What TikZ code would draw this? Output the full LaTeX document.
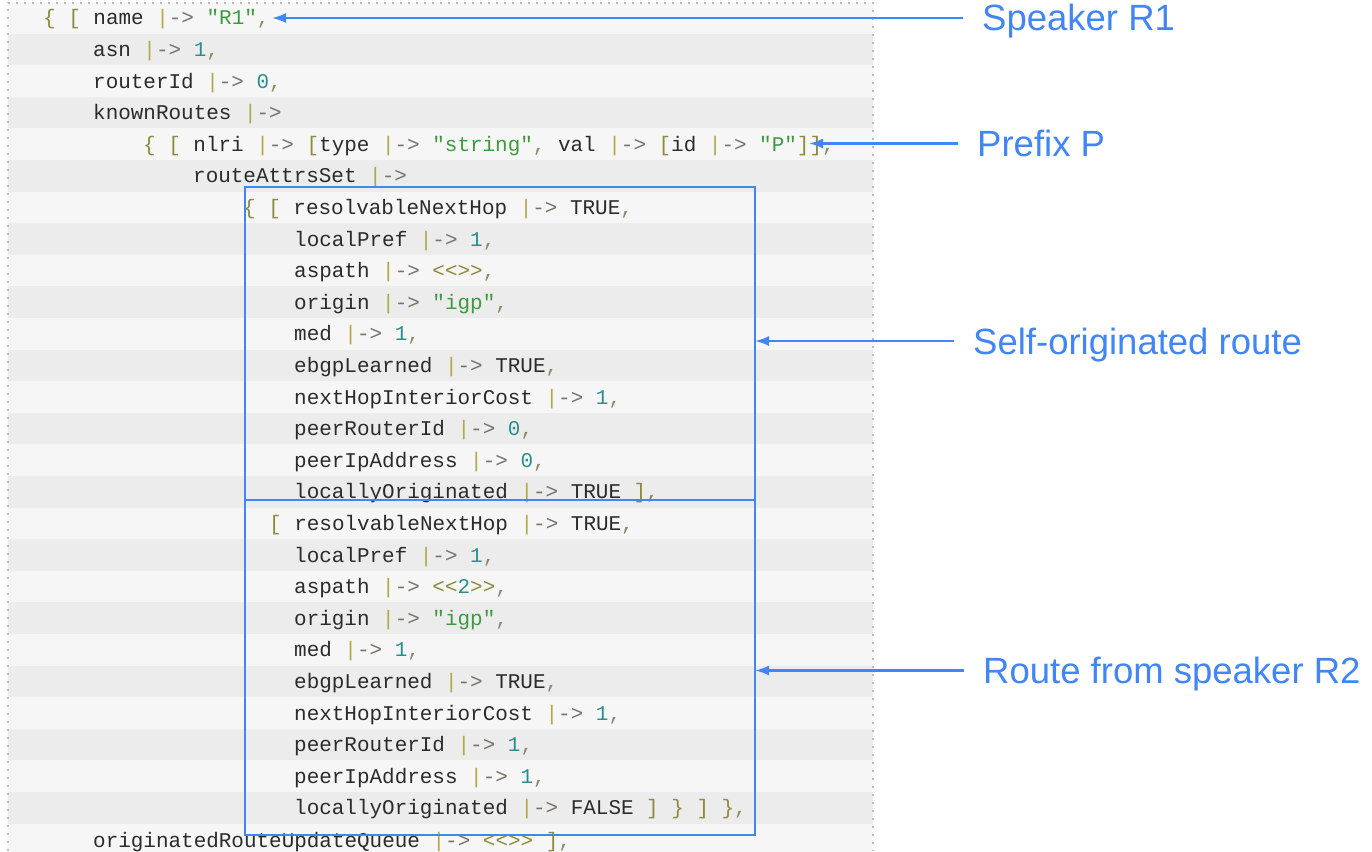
\documentclass[tikz,border=0pt]{standalone}
\usepackage{fontspec}
\setmonofont{Liberation Mono}
\newfontfamily\annfont{Liberation Sans}
\usetikzlibrary{arrows.meta}
\definecolor{stripeA}{HTML}{F6F6F6}
\definecolor{stripeB}{HTML}{ECECEC}
\definecolor{keyc}{HTML}{2B2B2B}
\definecolor{brk}{HTML}{8E8A3C}
\definecolor{barc}{HTML}{B3A84A}
\definecolor{arwc}{HTML}{76736A}
\definecolor{strc}{HTML}{3E9A3E}
\definecolor{numc}{HTML}{2B8E8E}
\definecolor{punc}{HTML}{8C8A6A}
\definecolor{gblue}{HTML}{4285F4}
\definecolor{dotc}{HTML}{BBBBBB}
\newcommand\Bk[1]{\textcolor{brk}{#1}}
\newcommand\Op{\textcolor{barc}{|}\textcolor{arwc}{->}}
\newcommand\St[1]{\textcolor{strc}{#1}}
\newcommand\Nm[1]{\textcolor{numc}{#1}}
\newcommand\Cm{\textcolor{punc}{,}}
\tikzset{
  code/.style={anchor=base west, inner sep=0pt, font=\ttfamily\fontsize{20.95}{24}\selectfont, text=keyc},
  lab/.style={anchor=west, inner xsep=19pt, inner ysep=0pt, text height=26pt, text depth=0pt,
    font=\annfont\fontsize{36.5}{40}\selectfont, text=gblue},
  box/.style={draw=gblue, line width=2pt, inner sep=0pt, outer sep=0pt},
  conn/.style={draw=gblue, line width=2.2pt, -{Latex[length=14pt,width=10pt]}},
  border/.style={draw=dotc, line width=1.6pt, dash pattern=on 1.6pt off 6.4pt}
}
\begin{document}
\begin{tikzpicture}[x=1pt, y=-1pt]
\useasboundingbox (0,0) rectangle (1372,851);
\clip (0,0) rectangle (1372,851);
\fill[white] (0,0) rectangle (1372,851);
% stripes
\foreach \k in {1,...,27}{
  \pgfmathsetmacro\ya{2+31.6*(\k-1)}
  \pgfmathsetmacro\yb{2+31.6*\k}
  \pgfmathparse{int(mod(\k,2))}
  \ifnum\pgfmathresult=1
    \fill[stripeA] (8,\ya) rectangle (873,\yb);
  \else
    \fill[stripeB] (8,\ya) rectangle (873,\yb);
  \fi
}
% dotted border
\draw[border] (8,851) -- (8,3) -- (873,3) -- (873,851);
% code lines
\node[code] (c1)  at (43,24.8)   {\Bk{\{ [} name \Op{} \St{"R1"}\Cm};
\node[code] (c2)  at (93,56.4)   {asn \Op{} \Nm{1}\Cm};
\node[code] (c3)  at (93,88.0)   {routerId \Op{} \Nm{0}\Cm};
\node[code] (c4)  at (93,119.6)  {knownRoutes \Op};
\node[code] (c5)  at (143,151.2) {\Bk{\{ [} nlri \Op{} \Bk{[}type \Op{} \St{"string"}\Cm{} val \Op{} \Bk{[}id \Op{} \St{"P"}\Bk{]]}\Cm};
\node[code] (c6)  at (193,182.8) {routeAttrsSet \Op};
\node[code] (c7)  at (243,214.4) {\Bk{\{ [} resolvableNextHop \Op{} TRUE\Cm};
\node[code] (c8)  at (294,246.0) {localPref \Op{} \Nm{1}\Cm};
\node[code] (c9)  at (294,277.6) {aspath \Op{} \Bk{<<>>}\Cm};
\node[code] (c10) at (294,309.2) {origin \Op{} \St{"igp"}\Cm};
\node[code] (c11) at (294,340.8) {med \Op{} \Nm{1}\Cm};
\node[code] (c12) at (294,372.4) {ebgpLearned \Op{} TRUE\Cm};
\node[code] (c13) at (294,404.0) {nextHopInteriorCost \Op{} \Nm{1}\Cm};
\node[code] (c14) at (294,435.6) {peerRouterId \Op{} \Nm{0}\Cm};
\node[code] (c15) at (294,467.2) {peerIpAddress \Op{} \Nm{0}\Cm};
\node[code] (c16) at (294,498.8) {locallyOriginated \Op{} TRUE \Bk{]}\Cm};
\node[code] (c17) at (269,530.4) {\Bk{[} resolvableNextHop \Op{} TRUE\Cm};
\node[code] (c18) at (294,562.0) {localPref \Op{} \Nm{1}\Cm};
\node[code] (c19) at (294,593.6) {aspath \Op{} \Bk{<<}\Nm{2}\Bk{>>}\Cm};
\node[code] (c20) at (294,625.2) {origin \Op{} \St{"igp"}\Cm};
\node[code] (c21) at (294,656.8) {med \Op{} \Nm{1}\Cm};
\node[code] (c22) at (294,688.4) {ebgpLearned \Op{} TRUE\Cm};
\node[code] (c23) at (294,720.0) {nextHopInteriorCost \Op{} \Nm{1}\Cm};
\node[code] (c24) at (294,751.6) {peerRouterId \Op{} \Nm{1}\Cm};
\node[code] (c25) at (294,783.2) {peerIpAddress \Op{} \Nm{1}\Cm};
\node[code] (c26) at (294,814.8) {locallyOriginated \Op{} FALSE \Bk{] \} ] \}}\Cm};
\node[code] (c27) at (93,847.4)  {originatedRouteUpdateQueue \Op{} \Bk{<<>> ]}\Cm};
% boxes
\node[box, minimum width=510pt, minimum height=313pt] (box1) at (500,343.5) {};
\node[box, minimum width=510pt, minimum height=335pt] (box2) at (500,667.5) {};
% targets
\coordinate (r1) at (272,18);
\coordinate (pp) at (809,143.5);
% labels
\node[lab] (spk) at (963,18)    {Speaker R1};
\node[lab] (pfx) at (958,143.5) {Prefix P};
\node[lab] (sor) at (954,341)   {Self-originated route};
\node[lab] (rr)  at (964,670.5) {Route from speaker R2};
% connectors
\draw[conn] (spk.west) -- (spk.west -| r1);
\draw[conn] (pfx.west) -- (pfx.west -| pp);
\draw[conn] (sor.west) -- (sor.west -| box1.east);
\draw[conn] (rr.west) -- (rr.west -| box2.east);
\end{tikzpicture}
\end{document}
